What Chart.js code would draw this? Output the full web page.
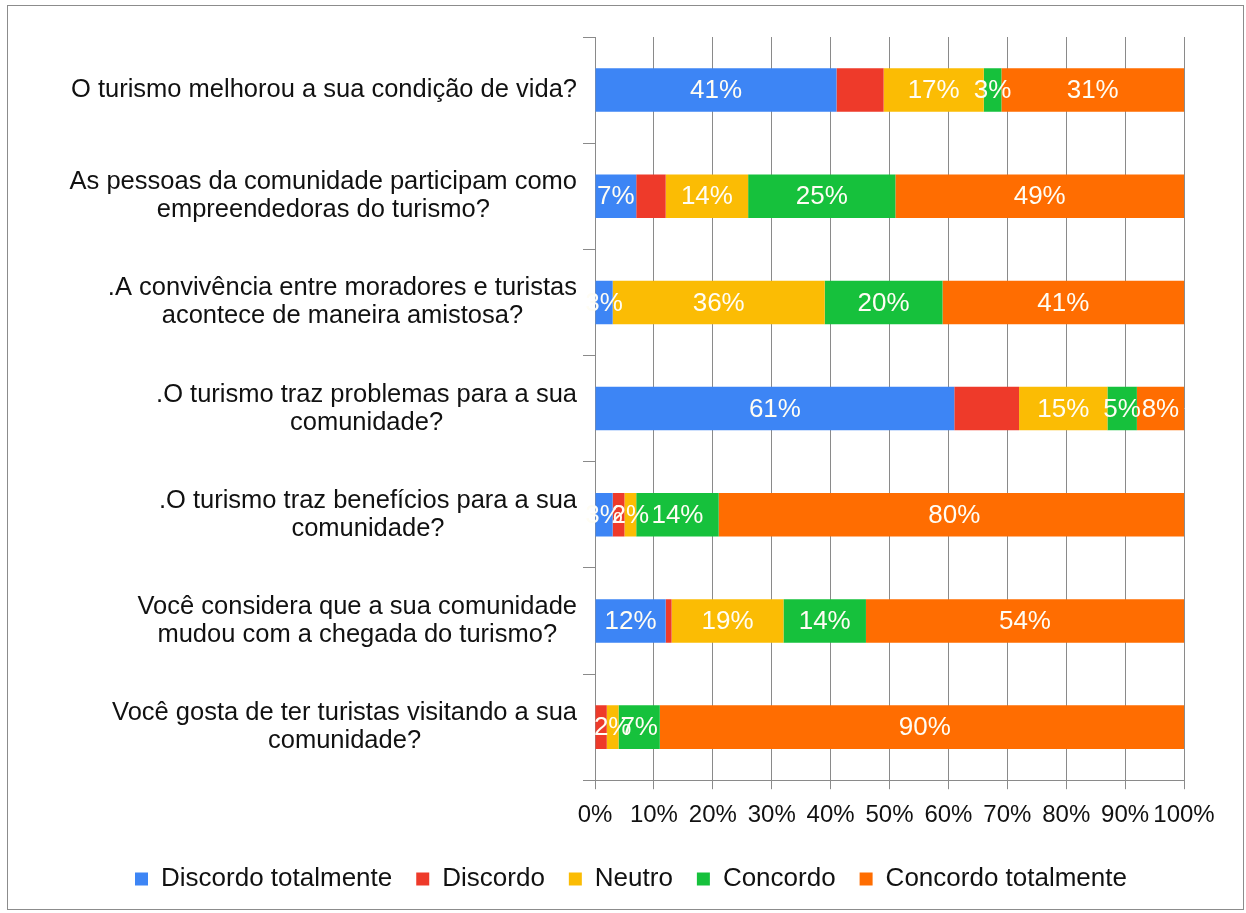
<!DOCTYPE html>
<html lang="pt">
<head>
<meta charset="utf-8">
<title>Percepção dos moradores sobre o turismo</title>
<script src="https://cdn.jsdelivr.net/npm/chart.js@4.4.1/dist/chart.umd.min.js"></script>
<style>
  html, body { margin: 0; padding: 0; background: #ffffff; }
  #frame {
    position: absolute; left: 7px; top: 5px;
    width: 1237px; height: 905px;
    box-sizing: border-box;
    border: 1px solid #8c8c8c;
    background: #ffffff;
  }
  canvas { display: block; }
</style>
</head>
<body>
<div id="frame">
  <canvas id="surveyChart" width="1235" height="903"></canvas>
</div>
<script>
// Perguntas (cada linha do rótulo em separado)
const questions = [
    ['O turismo melhorou a sua condição de vida?'],
    ['As pessoas da comunidade participam como', 'empreendedoras do turismo?'],
    ['.A convivência entre moradores e turistas', 'acontece de maneira amistosa?'],
    ['.O turismo traz problemas para a sua', 'comunidade?'],
    ['.O turismo traz benefícios para a sua', 'comunidade?'],
    ['Você considera que a sua comunidade', 'mudou com a chegada do turismo?'],
    ['Você gosta de ter turistas visitando a sua', 'comunidade?']
];

// Respostas em % por pergunta
const discordoTotalmente = [41, 7, 3, 61, 3, 12, 0];
const discordo = [8, 5, 0, 11, 2, 1, 2];
const neutro = [17, 14, 36, 15, 2, 19, 2];
const concordo = [3, 25, 20, 5, 14, 14, 7];
const concordoTotalmente = [31, 49, 41, 8, 80, 54, 90];

const xTicks = [0, 10, 20, 30, 40, 50, 60, 70, 80, 90, 100];

const FONT = "'Liberation Sans', Arial, sans-serif";
const GRID = '#8a8a8a';

// rótulos de valor dentro das barras
const barLabels = {
    id: 'barLabels',
    afterDatasetsDraw(chart) {
        const ctx = chart.ctx;
        ctx.save();
        ctx.font = '26px ' + FONT;
        ctx.fillStyle = '#fffdf4';
        ctx.textAlign = 'center';
        ctx.textBaseline = 'middle';
        chart.data.datasets.forEach((ds, i) => {
            if (ds.hideLabels) return;
            const meta = chart.getDatasetMeta(i);
            meta.data.forEach((bar, j) => {
                const v = ds.data[j];
                if (!v) return;
                ctx.fillText(v + '%', (bar.x + bar.base) / 2, bar.y + 1);
            });
        });
        ctx.restore();
    }
};

// perguntas no eixo vertical: bloco alinhado à direita, linhas centradas
const questionLabels = {
    id: 'questionLabels',
    afterDraw(chart) {
        const ctx = chart.ctx;
        const y = chart.scales.y;
        const right = chart.chartArea.left - 18;
        const lineH = 28;
        ctx.save();
        ctx.font = '25.5px ' + FONT;
        ctx.fillStyle = '#111111';
        ctx.textAlign = 'center';
        ctx.textBaseline = 'middle';
        questions.forEach((lines, i) => {
            const cy = y.getPixelForValue(i);
            const w = Math.max(...lines.map(l => ctx.measureText(l).width));
            const cx = right - w / 2;
            lines.forEach((line, k) => {
                ctx.fillText(line, cx, cy + (k - (lines.length - 1) / 2) * lineH);
            });
        });
        ctx.restore();
    }
};

const ctx = document.getElementById('surveyChart').getContext('2d');

new Chart(ctx, {
    type: 'bar',
    data: {
        labels: questions.map(q => q.join(' ')),
        datasets: [
            { label: 'Discordo totalmente', data: discordoTotalmente, backgroundColor: '#3d85f5' },
            { label: 'Discordo', data: discordo, backgroundColor: '#ee3a2a', hideLabels: true },
            { label: 'Neutro', data: neutro, backgroundColor: '#fbbc04' },
            { label: 'Concordo', data: concordo, backgroundColor: '#16c13c' },
            { label: 'Concordo totalmente', data: concordoTotalmente, backgroundColor: '#ff6d01' }
        ]
    },
    options: {
        indexAxis: 'y',
        responsive: false,
        animation: false,
        barPercentage: 0.41,
        categoryPercentage: 1,
        layout: { padding: { left: 70, right: 59, top: 31, bottom: 7 } },
        plugins: {
            legend: {
                position: 'bottom',
                labels: {
                    color: '#111111',
                    font: { family: FONT, size: 26 },
                    boxWidth: 13,
                    boxHeight: 13,
                    padding: 24
                }
            },
            tooltip: { enabled: false }
        },
        scales: {
            x: {
                stacked: true,
                min: 0,
                max: 100,
                afterBuildTicks: (scale) => { scale.ticks = xTicks.map(v => ({ value: v })); },
                grid: { color: GRID, tickLength: 9 },
                border: { color: GRID },
                ticks: {
                    color: '#111111',
                    font: { family: FONT, size: 24 },
                    padding: 12,
                    autoSkip: false,
                    maxRotation: 0,
                    callback: (v) => v + '%'
                }
            },
            y: {
                stacked: true,
                afterFit: (scale) => { scale.width = 517; },
                grid: { drawOnChartArea: false, color: GRID, tickLength: 12, offset: true },
                border: { color: GRID },
                ticks: { display: false }
            }
        }
    },
    plugins: [barLabels, questionLabels]
});
</script>
</body>
</html>
